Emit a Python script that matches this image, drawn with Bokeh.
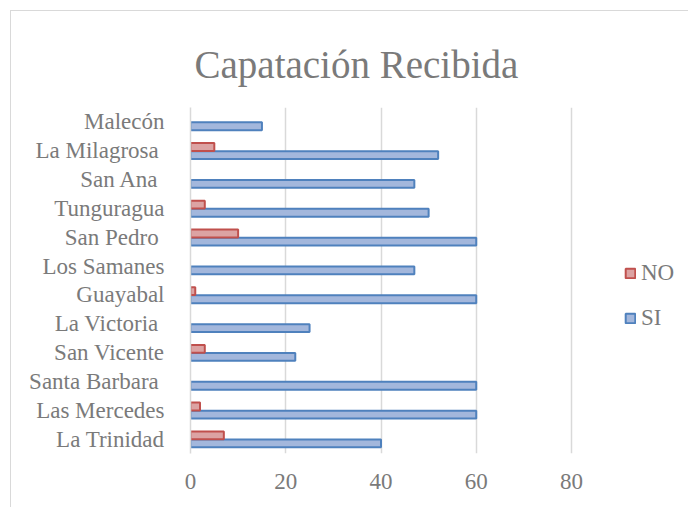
from bokeh.plotting import figure
from bokeh.models import ColumnDataSource, FactorRange, Range1d, Legend, LegendItem, FixedTicker
from bokeh.transform import dodge
from bokeh.embed import file_html
from bokeh.resources import INLINE

categories = ["Malecón", "La Milagrosa ", "San Ana ", "Tunguragua", "San Pedro ",
              "Los Samanes", "Guayabal", "La Victoria ", "San Vicente", "Santa Barbara ",
              "Las Mercedes", "La Trinidad"]
si_values = [15, 52, 47, 50, 60, 47, 60, 25, 22, 60, 60, 40]
no_values = [0, 5, 0, 3, 10, 0, 1, 0, 3, 0, 2, 7]
x_ticks = [0, 20, 40, 60, 80]

FONT = "Liberation Serif"
TXT = "#7a7a7a"

factors = list(reversed(categories))

# frame spans to the right edge so that the legend can sit inside it;
# 0..80 occupies 381 px, the frame is 499 px wide
p = figure(width=678, height=497, y_range=FactorRange(factors=factors, range_padding=0),
           x_range=Range1d(0, 80 * 499 / 381), output_backend="svg", toolbar_location=None,
           min_border_left=179, min_border_right=0, min_border_top=96, min_border_bottom=55)
p.styles = {"border-left": "1px solid #d9d9d9", "border-top": "1px solid #d9d9d9",
            "margin-left": "10px", "margin-top": "10px"}

si_src = ColumnDataSource(dict(cat=[c for c, v in zip(categories, si_values) if v > 0],
                               val=[v for v in si_values if v > 0]))
no_src = ColumnDataSource(dict(cat=[c for c, v in zip(categories, no_values) if v > 0],
                               val=[v for v in no_values if v > 0]))

r_si = p.hbar(y=dodge("cat", -0.15, range=p.y_range), right="val", left=0, height=0.27,
              source=si_src, fill_color="#a3b7dc", line_color="#4f81bd", line_width=2)
r_no = p.hbar(y=dodge("cat", 0.13, range=p.y_range), right="val", left=0, height=0.27,
              source=no_src, fill_color="#dca3a3", line_color="#c0504d", line_width=2)

p.title.text = "Capatación Recibida"
p.title.text_font = FONT
p.title.text_font_size = "39px"
p.title.text_font_style = "normal"
p.title.text_color = TXT
p.title.align = "left"
p.title.offset = 4
p.title.standoff = 44

p.outline_line_color = None
p.ygrid.grid_line_color = None
p.xgrid.grid_line_color = "#d9d9d9"
p.xgrid.grid_line_width = 1.5
p.xaxis.ticker = FixedTicker(ticks=x_ticks)
p.xgrid.ticker = FixedTicker(ticks=x_ticks)

p.xaxis.axis_line_color = None
p.xaxis.major_tick_line_color = None
p.xaxis.minor_tick_line_color = None
p.xaxis.major_label_text_font = FONT
p.xaxis.major_label_text_font_size = "23px"
p.xaxis.major_label_text_color = TXT
p.xaxis.major_label_standoff = 14

p.yaxis.axis_line_color = "#d9d9d9"
p.yaxis.axis_line_width = 1.5
p.yaxis.major_tick_line_color = None
p.yaxis.minor_tick_line_color = None
p.yaxis.major_label_text_font = FONT
p.yaxis.major_label_text_font_size = "23px"
p.yaxis.major_label_text_color = TXT
p.yaxis.major_label_standoff = 20

legend = Legend(items=[LegendItem(label="NO", renderers=[r_no]),
                       LegendItem(label="SI", renderers=[r_si])],
                location=(434, 122), orientation="vertical")
legend.label_text_font = FONT
legend.label_text_font_size = "23px"
legend.label_text_color = TXT
legend.glyph_width = 12
legend.glyph_height = 12
legend.label_height = 23
legend.spacing = 19
legend.padding = 0
legend.margin = 0
legend.label_standoff = 5
legend.border_line_color = None
legend.background_fill_alpha = 0
p.add_layout(legend)

open("out.html", "w").write(file_html(p, INLINE))
